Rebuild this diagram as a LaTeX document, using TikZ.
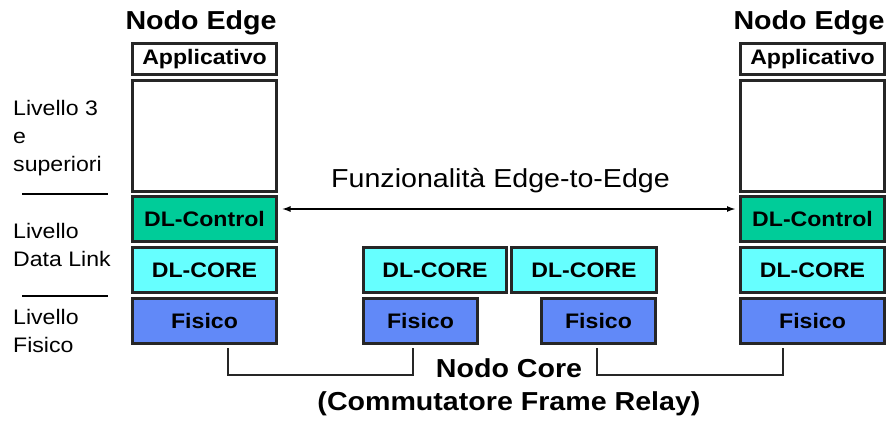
\documentclass[tikz,border=0pt]{standalone}
\usepackage{fontspec}
\setmainfont{Liberation Sans}[FakeStretch=1.1]
\usetikzlibrary{arrows.meta}

\definecolor{ctrlgreen}{HTML}{00CC99}
\definecolor{corecyan}{HTML}{66FFFF}
\definecolor{fisblue}{HTML}{6189F8}

\tikzset{
  layer/.style={draw=black!85, line width=2.7pt, inner sep=0pt,
    minimum width=144.3pt, minimum height=45.3pt,
    font=\fontsize{21}{25}\selectfont\bfseries},
  title/.style={anchor=base, inner sep=0pt, font=\fontsize{26}{30}\selectfont\bfseries},
  note/.style={anchor=base west, inner sep=0pt, align=left,
    font=\fontsize{21}{28}\selectfont},
  sep/.style={line width=2.7pt},
  link/.style={draw=black!85, line width=2.7pt},
}

\begin{document}
\begin{tikzpicture}[x=1pt,y=-1pt]
  \useasboundingbox (0,0) rectangle (890,420);

  % le due pile dei nodi edge
  \foreach \x/\n in {204.5/l,812.5/r} {
    \node[title] (\n title) at (\x-3.5,30) {Nodo Edge};
    \node[layer, fill=white, minimum height=31.3pt] (\n app) at (\x,59) {Applicativo};
    \node[layer, fill=white, minimum height=111.3pt] (\n up) at (\x,136) {};
    \node[layer, fill=ctrlgreen] (\n dlc) at (\x,219) {DL-Control};
    \node[layer, fill=corecyan] (\n core) at (\x,270) {DL-CORE};
    \node[layer, fill=fisblue] (\n fis) at (\x,321) {Fisico};
  }

  % nodo core
  \node[layer, fill=corecyan, minimum width=143.3pt] (ccorea) at (435,270) {DL-CORE};
  \node[layer, fill=corecyan, minimum width=145.3pt] (ccoreb) at (584,270) {DL-CORE};
  \node[layer, fill=fisblue, minimum width=114.3pt] (cfisa) at (420.5,321) {Fisico};
  \node[layer, fill=fisblue, minimum width=114.3pt] (cfisb) at (598.5,321) {Fisico};
  \node[title] (core) at (509,377) {Nodo Core};
  \node[title] (switch) at (509,410) {(Commutatore Frame Relay)};

  % livelli a sinistra
  \node[note] (lv3) at (13,171) {Livello 3\\e\\superiori};
  \node[note] (lvdl) at (13,266) {Livello\\Data Link};
  \node[note] (lvfis) at (13,352) {Livello\\Fisico};
  \draw[sep] (22,194) -- (108,194);
  \draw[sep] (22,296) -- (108,296);

  % edge-to-edge
  \node[anchor=base, inner sep=0pt, font=\fontsize{26}{30}\selectfont] (func) at (500.5,187) {Funzionalità Edge-to-Edge};
  \draw[{Latex[length=9pt,width=6pt]}-{Latex[length=9pt,width=6pt]}, line width=1.8pt]
    ([xshift=3.5pt,yshift=10pt]ldlc.east) -- ([xshift=-3pt,yshift=10pt]rdlc.west);

  % collegamenti fisici
  \coordinate (lbus) at (320,375);
  \coordinate (rbus) at (690,375);
  \draw[link] ([xshift=23.5pt,yshift=-3pt]lfis.south) |- (lbus) -| ([xshift=-7.5pt,yshift=-3pt]cfisa.south);
  \draw[link] ([xshift=-1.5pt,yshift=-3pt]cfisb.south) |- (rbus) -| ([xshift=-29.5pt,yshift=-3pt]rfis.south);
\end{tikzpicture}
\end{document}
